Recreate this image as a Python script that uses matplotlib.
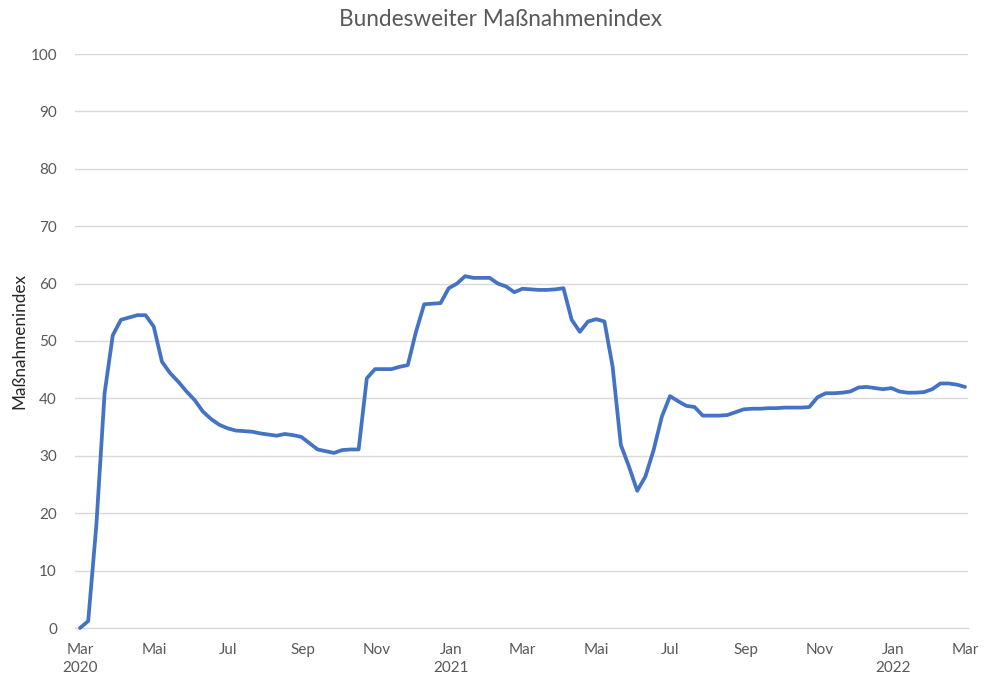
import matplotlib
matplotlib.use("Agg")
import matplotlib.pyplot as plt
import pandas as pd
import numpy as np

# --- data ---
index_values = [
    0.0, 1.2, 18.0, 40.9, 51.0, 53.7, 54.1, 54.5, 54.5, 52.5,
    46.4, 44.4, 42.9, 41.2, 39.7, 37.7, 36.4, 35.4, 34.8, 34.4,
    34.3, 34.2, 33.9, 33.7, 33.5, 33.8, 33.6, 33.3, 32.2, 31.1,
    30.8, 30.5, 31.0, 31.1, 31.1, 43.5, 45.1, 45.1, 45.1, 45.5,
    45.8, 51.6, 56.4, 56.5, 56.6, 59.2, 60.0, 61.3, 61.0, 61.0,
    61.0, 60.0, 59.5, 58.5, 59.1, 59.0, 58.9, 58.9, 59.0, 59.2,
    53.7, 51.6, 53.4, 53.8, 53.4, 45.5, 31.9, 28.1, 23.9, 26.4,
    31.0, 36.8, 40.4, 39.5, 38.7, 38.5, 37.0, 37.0, 37.0, 37.1,
    37.6, 38.1, 38.2, 38.2, 38.3, 38.3, 38.4, 38.4, 38.4, 38.5,
    40.2, 40.9, 40.9, 41.0, 41.2, 41.9, 42.0, 41.8, 41.6, 41.8,
    41.2, 41.0, 41.0, 41.1, 41.6, 42.6, 42.6, 42.4, 42.0,
]
start_date = "2020-03-01"
end_date = "2022-03-01"
tick_dates = ["2020-03-01", "2020-05-01", "2020-07-01", "2020-09-01", "2020-11-01",
              "2021-01-01", "2021-03-01", "2021-05-01", "2021-07-01", "2021-09-01",
              "2021-11-01", "2022-01-01", "2022-03-01"]
tick_labels = ["Mar\n2020", "Mai", "Jul", "Sep", "Nov", "Jan\n2021", "Mar", "Mai",
               "Jul", "Sep", "Nov", "Jan\n2022", "Mar"]
title = "Bundesweiter Maßnahmenindex"
ylabel = "Maßnahmenindex"

dates = pd.date_range(start_date, end_date, periods=len(index_values))

plt.rcParams['font.family'] = ['Lato', 'DejaVu Sans']

fig = plt.figure(figsize=(9.84, 6.77), dpi=100)
W, H = 984, 677
ax = fig.add_axes([75 / W, 1 - 628 / H, (968 - 75) / W, (628 - 54) / H])

ax.plot(dates, index_values, color="#4472C4", linewidth=2.7, solid_joinstyle="round",
        solid_capstyle="round", zorder=3, clip_on=False)

t0 = pd.Timestamp(start_date)
pxday = (965 - 80) / 730.0
ax.set_xlim(t0 - pd.Timedelta(days=5 / pxday), t0 + pd.Timedelta(days=(968 - 80) / pxday))
ax.set_ylim(0, 100)
ax.set_yticks(np.arange(0, 101, 10))
ax.set_xticks(pd.to_datetime(tick_dates))
ax.set_xticklabels(tick_labels, linespacing=1.35)

ax.grid(axis="y", color="#d9d9d9", linewidth=1.0)
ax.set_axisbelow(True)
for s in ["top", "right", "left"]:
    ax.spines[s].set_visible(False)
ax.spines["bottom"].set_color("#d9d9d9")
ax.spines["bottom"].set_linewidth(1.0)
ax.tick_params(axis="both", length=0, colors="#595959", labelsize=11)
ax.tick_params(axis="x", pad=11)
ax.tick_params(axis="y", pad=13)

fig.text(500 / W, 1 - 20 / H, title, ha="center", va="center", fontsize=16.3, color="#595959")
fig.text(19 / W, 1 - 341 / H, ylabel, ha="center", va="center", rotation=90,
         fontsize=12.3, color="#262626")

fig.savefig("out.png", dpi=100, facecolor="white")
